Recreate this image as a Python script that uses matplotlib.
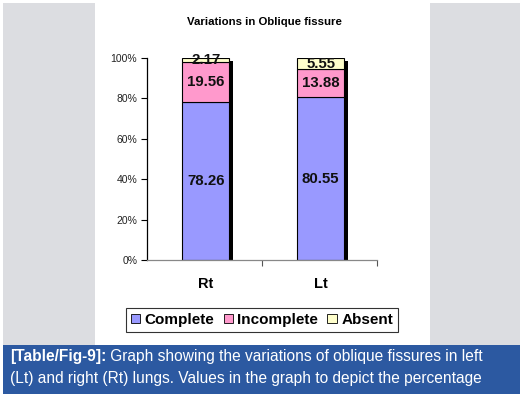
import matplotlib
matplotlib.use("Agg")
import matplotlib.pyplot as plt
import matplotlib.transforms as mtransforms
from matplotlib.patches import Rectangle, Patch
import numpy as np

plt.rcParams['font.family'] = ['Liberation Sans', 'DejaVu Sans']

categories = ["Rt", "Lt"]
complete = [78.26, 80.55]
incomplete = [19.56, 13.88]
absent = [2.17, 5.55]
series_names = ["Complete", "Incomplete", "Absent"]
colors = ["#9999ff", "#ff99cc", "#ffffcc"]
yticks = [0, 20, 40, 60, 80, 100]
title = "Variations in Oblique fissure"
caption_bold = "[Table/Fig-9]:"
caption_rest1 = " Graph showing the variations of oblique fissures in left"
caption_line2 = "(Lt) and right (Rt) lungs. Values in the graph to depict the percentage"

W, H = 527, 399
fig = plt.figure(figsize=(W/100, H/100), dpi=100)
fig.patch.set_facecolor("white")

def px_rect(x0, y0, x1, y1, color):
    fig.patches.append(Rectangle((x0/W, 1-y1/H), (x1-x0)/W, (y1-y0)/H,
                                 transform=fig.transFigure, facecolor=color,
                                 edgecolor="none", zorder=-10))

px_rect(3, 3, 520, 345, "#dcdde1")
px_rect(95, 3, 430, 345, "white")
px_rect(3, 345, 520, 394, "#2c59a1")

ax = fig.add_axes([147/W, 1-260/H, 230/W, 202/H])
ax.set_zorder(1)
ax.set_facecolor("none")
x = np.arange(len(categories))
width = 0.41
totals = np.array(complete) + np.array(incomplete) + np.array(absent)

shadow = mtransforms.offset_copy(ax.transData, fig=fig, x=3.5, y=-3, units='dots')
ax.bar(x + 0.01, totals, width, color="black", transform=shadow, zorder=1)

bottoms = np.zeros(len(categories))
for vals, col in zip([complete, incomplete, absent], colors):
    vals = np.array(vals)
    ax.bar(x + 0.01, vals, width, bottom=bottoms, color=col, edgecolor="black",
           linewidth=0.8, zorder=2)
    for xi, b, v in zip(x, bottoms, vals):
        ax.text(xi + 0.01, b + v/2, f"{v:.2f}", ha="center", va="center",
                fontsize=10.8, fontweight="bold", color="#111111", zorder=3)
    bottoms += vals

ax.set_xlim(-0.5, 1.5)
ax.set_ylim(0, 100)
ax.set_yticks(yticks)
ax.set_yticklabels([f"{t}%" for t in yticks], fontsize=7.5, color="#222222")
ax.set_xticks([0.5, 1.5])
ax.set_xticklabels([])
ax.tick_params(axis="y", direction="out", length=4, width=0.8, pad=3)
ax.tick_params(axis="x", direction="out", length=4, width=0.8, color="#555555")
for xi, c in zip(x, categories):
    ax.text(xi + 0.01, -12, c, ha="center", va="center", fontsize=10.5,
            fontweight="bold", transform=ax.transData, clip_on=False)
for s in ["top", "right"]:
    ax.spines[s].set_visible(False)
ax.spines["left"].set_color("black")
ax.spines["left"].set_linewidth(0.9)
ax.spines["bottom"].set_color("#888888")
ax.spines["bottom"].set_linewidth(0.9)

fig.text(264/W, 1-22/H, title, ha="center", va="center", fontsize=8.2,
         fontweight="bold")

handles = [Patch(facecolor=c, edgecolor="black", linewidth=0.6) for c in colors]
leg = fig.legend(handles, series_names, loc="center", bbox_to_anchor=(262/W, 1-320/H),
                 ncol=3, frameon=True, fancybox=False, handlelength=0.6,
                 handleheight=0.6, handletextpad=0.3, columnspacing=0.6,
                 borderpad=0.3, prop={"weight": "bold", "size": 11})
leg.get_frame().set_edgecolor("black")
leg.get_frame().set_linewidth(0.8)

r = fig.canvas.get_renderer()
t1 = fig.text(10/W, 1-357/H, caption_bold, ha="left", va="center", fontsize=11.2,
              fontweight="bold", color="white")
bb = t1.get_window_extent(renderer=r)
fig.text(bb.x1/W, 1-357/H, caption_rest1, ha="left", va="center", fontsize=11.2,
         color="white")
fig.text(10/W, 1-378/H, caption_line2, ha="left", va="center", fontsize=11.2,
         color="white")

fig.savefig("out.png", dpi=100)
